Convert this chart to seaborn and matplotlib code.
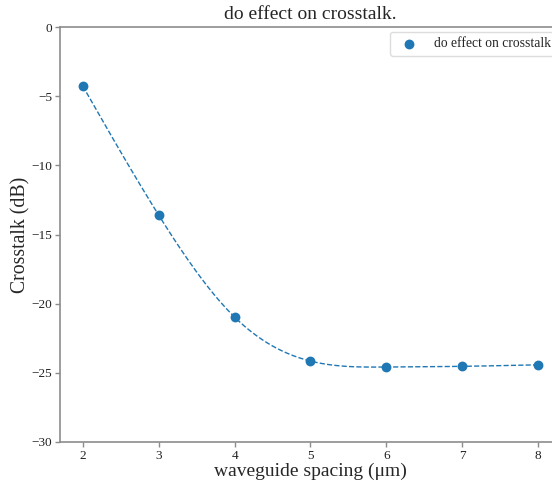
import numpy as np
import pandas as pd
import matplotlib
matplotlib.use("Agg")
import matplotlib.pyplot as plt
import seaborn as sns

# Measured crosstalk versus waveguide spacing
spacing_um = [2, 3, 4, 5, 6, 7, 8]
crosstalk_db = [-4.27, -13.6, -20.97, -24.15, -24.58, -24.53, -24.42]
series_label = "do effect on crosstalk"


def natural_cubic_spline(x, y, xs):
    """Evaluate a natural cubic spline through (x, y) at xs."""
    x = np.asarray(x, float)
    y = np.asarray(y, float)
    n = len(x)
    h = np.diff(x)
    A = np.zeros((n, n))
    b = np.zeros(n)
    A[0, 0] = A[-1, -1] = 1.0
    for i in range(1, n - 1):
        A[i, i - 1] = h[i - 1]
        A[i, i] = 2 * (h[i - 1] + h[i])
        A[i, i + 1] = h[i]
        b[i] = 3 * ((y[i + 1] - y[i]) / h[i] - (y[i] - y[i - 1]) / h[i - 1])
    c = np.linalg.solve(A, b)
    bb = (y[1:] - y[:-1]) / h - h * (2 * c[:-1] + c[1:]) / 3
    d = (c[1:] - c[:-1]) / (3 * h)
    idx = np.clip(np.searchsorted(x, xs) - 1, 0, n - 2)
    dx = xs - x[idx]
    return y[idx] + bb[idx] * dx + c[idx] * dx ** 2 + d[idx] * dx ** 3


sns.set_theme(style="white")
plt.rcParams["font.family"] = ["Liberation Serif", "DejaVu Serif"]

points = pd.DataFrame({"spacing": spacing_um, "crosstalk": crosstalk_db})
xs = np.linspace(min(spacing_um), max(spacing_um), 300)
curve = pd.DataFrame({"spacing": xs,
                      "crosstalk": natural_cubic_spline(spacing_um, crosstalk_db, xs)})

fig = plt.figure(figsize=(5.52, 4.83), dpi=100)
ax = fig.add_axes([60 / 552, 41 / 483, 501 / 552, 415 / 483])

color = "#1f77b4"
sns.lineplot(data=curve, x="spacing", y="crosstalk", ax=ax, color=color,
             linestyle="--", linewidth=1.0)
sns.scatterplot(data=points, x="spacing", y="crosstalk", ax=ax, color=color,
                s=50, edgecolor=color, linewidth=0, label=series_label, zorder=3)

ax.set_xlim(1.7, 8.3)
ax.set_ylim(-30, 0)
ax.set_xticks(spacing_um)
ax.set_yticks([0, -5, -10, -15, -20, -25, -30])

for side in ["left", "bottom", "top", "right"]:
    ax.spines[side].set_color("#8c8c8c")
    ax.spines[side].set_linewidth(1.2)
ax.tick_params(axis="both", which="both", bottom=True, left=True,
               length=3.5, width=1, color="#8c8c8c", labelsize=9.5,
               labelcolor="#222222", pad=2)

ax.set_title("do effect on crosstalk.", fontsize=14, pad=6)
ax.set_xlabel("waveguide spacing (μm)", fontsize=14)
ax.set_ylabel("Crosstalk (dB)", fontsize=14.2)
ax.xaxis.set_label_coords(0.5, -21 / 415)
ax.yaxis.set_label_coords(-30 / 501, 0.5)

ax.legend(loc="upper right", fontsize=9.8, frameon=True, framealpha=1,
          edgecolor="#dddddd", handletextpad=0.8, borderaxespad=0.35)

fig.savefig("out.png", dpi=100)
